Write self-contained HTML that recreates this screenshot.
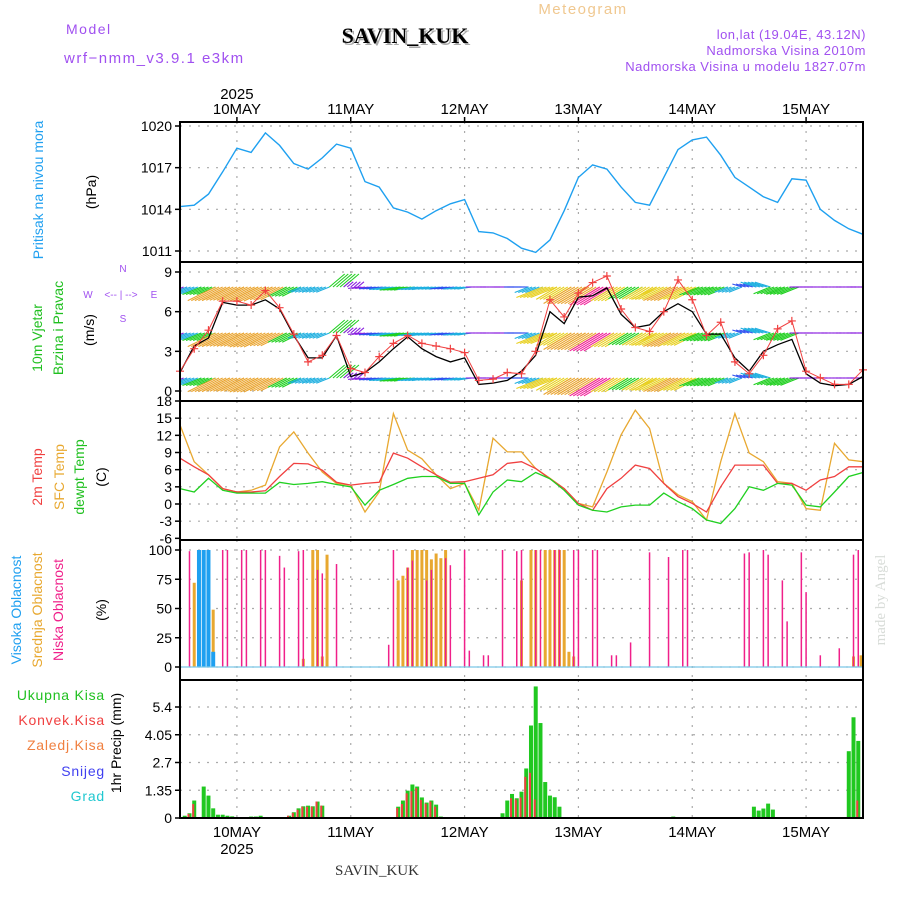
<!DOCTYPE html>
<html><head><meta charset="utf-8">
<style>
html,body{margin:0;padding:0;background:#fff;}
svg{display:block;font-family:"Liberation Sans",sans-serif;}
</style></head>
<body>
<svg id="chart" width="900" height="900" viewBox="0 0 900 900" xmlns="http://www.w3.org/2000/svg">
<defs><clipPath id="windclip"><rect x="180" y="262" width="683" height="139"/></clipPath></defs>
<rect x="0" y="0" width="900" height="900" fill="#fff"/>
<g>
<text x="66" y="34" font-size="14" fill="#a050f0" letter-spacing="1.5">Model</text>
<text x="64" y="63" font-size="15" fill="#a050f0" letter-spacing="1.5">wrf−nmm_v3.9.1  e3km</text>
<text x="407" y="45" font-size="22" font-weight="bold" font-family="Liberation Serif, serif" fill="#aaa" text-anchor="middle">SAVIN_KUK</text>
<text x="405" y="43" font-size="22" font-weight="bold" font-family="Liberation Serif, serif" fill="#000" text-anchor="middle">SAVIN_KUK</text>
<text x="583" y="14" font-size="15" fill="#f0c890" text-anchor="middle" letter-spacing="1.5">Meteogram</text>
<text x="866" y="39" font-size="13" fill="#a050f0" text-anchor="end" letter-spacing="0.5">lon,lat (19.04E, 43.12N)</text>
<text x="866" y="55" font-size="13" fill="#a050f0" text-anchor="end" letter-spacing="0.5">Nadmorska Visina 2010m</text>
<text x="866" y="71" font-size="13" fill="#a050f0" text-anchor="end" letter-spacing="0.5">Nadmorska Visina u modelu 1827.07m</text>
</g>
<g font-size="14">
<text transform="translate(43,190) rotate(-90)" text-anchor="middle" fill="#20a0f0">Pritisak na nivou mora</text>
<text transform="translate(96,192) rotate(-90)" text-anchor="middle" fill="#000">(hPa)</text>
<text transform="translate(42,338) rotate(-90)" text-anchor="middle" fill="#20c020">10m Vjetar</text>
<text transform="translate(63,328) rotate(-90)" text-anchor="middle" fill="#20c020">Brzina i Pravac</text>
<text transform="translate(94,330) rotate(-90)" text-anchor="middle" fill="#000">(m/s)</text>
<g fill="#a050f0" font-size="10" text-anchor="middle">
<text x="88" y="298">W</text><text x="154" y="298">E</text><text x="123" y="272">N</text><text x="123" y="322">S</text>
<text x="121" y="298">&lt;-- | --&gt;</text>
</g>
<text transform="translate(42,477) rotate(-90)" text-anchor="middle" fill="#f04040">2m Temp</text>
<text transform="translate(64,477) rotate(-90)" text-anchor="middle" fill="#e8a830">SFC Temp</text>
<text transform="translate(84,477) rotate(-90)" text-anchor="middle" fill="#20c020">dewpt Temp</text>
<text transform="translate(106,477) rotate(-90)" text-anchor="middle" fill="#000">(C)</text>
<text transform="translate(21,610) rotate(-90)" text-anchor="middle" fill="#20a0f0">Visoka Oblacnost</text>
<text transform="translate(42,610) rotate(-90)" text-anchor="middle" fill="#e8a830">Srednja Oblacnost</text>
<text transform="translate(63,610) rotate(-90)" text-anchor="middle" fill="#f0208a">Niska Oblacnost</text>
<text transform="translate(106,610) rotate(-90)" text-anchor="middle" fill="#000">(%)</text>
<g text-anchor="end" font-size="14" letter-spacing="0.8">
<text x="105" y="700" fill="#20c020">Ukupna  Kisa</text>
<text x="105" y="725" fill="#f04040">Konvek.Kisa</text>
<text x="105" y="750" fill="#f08040">Zaledj.Kisa</text>
<text x="105" y="776" fill="#4040f0">Snijeg</text>
<text x="105" y="801" fill="#20c8d0">Grad</text>
</g>
<text transform="translate(121,743) rotate(-90)" text-anchor="middle" fill="#000">1hr Precip (mm)</text>
<text transform="translate(885,600) rotate(-90)" text-anchor="middle" fill="#d8dcd8" font-family="Liberation Serif, serif" font-size="15">made by Angel</text>
<text x="377" y="875" font-size="15" font-family="Liberation Serif, serif" fill="#333" text-anchor="middle">SAVIN_KUK</text>
</g>
<g id="plots"></g>
</svg>
<script>
// ---- data (3-hourly from 9 May 12UTC) ----
const dayLabels = ["10MAY","11MAY","12MAY","13MAY","14MAY","15MAY"];
const pressTicks = [1020,1017,1014,1011];
const windTicks = [9,6,3,0];
const tempTicks = [18,15,12,9,6,3,0,-3,-6];
const cloudTicks = [100,75,50,25,0];
const precipTicks = ["5.4","4.05","2.7","1.35","0"];
const pressure = [1014.2,1014.3,1015.1,1016.7,1018.4,1018.1,1019.5,1018.6,1017.3,1016.9,1017.7,1018.7,1018.4,1016.0,1015.6,1014.1,1013.8,1013.3,1013.9,1014.4,1014.7,1012.4,1012.3,1011.9,1011.2,1010.9,1011.8,1013.9,1016.3,1017.2,1016.9,1015.6,1014.5,1014.3,1016.3,1018.3,1019.0,1019.2,1017.9,1016.3,1015.6,1014.9,1014.5,1016.2,1016.1,1014.0,1013.2,1012.6,1012.2];
const windSpeed = [1.4,3.4,4.0,6.7,6.5,6.5,6.9,6.2,4.2,2.5,2.5,4.2,1.1,1.4,2.2,3.2,4.1,3.2,2.6,2.2,2.5,0.5,0.6,0.8,1.5,2.7,6.0,5.1,7.1,7.2,7.8,5.8,4.8,5.0,6.0,6.6,6.0,4.3,4.3,2.5,1.5,3.0,3.5,3.9,1.3,0.6,0.4,0.5,1.1];
const windGust = [1.5,3.2,4.6,6.8,6.8,6.5,7.6,6.3,4.3,2.2,2.7,4.2,1.7,1.4,2.6,3.6,4.2,3.6,3.4,3.2,2.9,0.8,0.9,1.4,1.3,3.0,6.9,5.6,7.4,8.2,8.7,6.2,4.8,4.5,6.0,8.4,6.9,4.2,5.2,2.2,1.3,2.7,4.7,5.3,1.5,1.0,0.5,0.5,1.6];
const windFrom = [65,65,65,60,60,60,60,60,60,65,65,225,225,80,80,80,80,80,80,80,80,90,90,90,90,65,65,55,55,55,55,55,55,55,60,60,60,65,65,65,110,110,65,65,90,90,90,90,90];
const tempSfc = [13.8,7.4,5.1,2.7,2.1,2.4,3.3,10.0,12.6,8.9,5.6,3.6,3.3,-1.4,2.1,15.8,9.4,7.9,5.1,2.7,3.6,-1.1,11.5,9.1,9.1,6.2,4.5,2.7,0.1,-0.5,5.6,12.1,16.4,13.2,3.6,1.6,0.4,-2.8,7.4,15.8,8.9,7.4,3.9,3.6,-0.8,-1.1,10.6,7.7,7.4];
const temp2m = [8.0,6.5,5.1,2.7,2.1,2.1,2.3,4.8,7.1,7.0,5.9,3.8,3.3,3.6,3.8,8.9,8.0,6.5,5.1,3.8,3.9,4.5,5.1,7.1,7.4,6.2,4.4,2.7,0.1,-1.1,2.7,4.5,6.8,6.2,3.6,1.3,0.1,-1.4,3.0,6.8,6.8,6.8,3.6,3.6,2.4,4.2,4.8,6.5,6.5];
const tempDew = [2.7,2.1,4.5,2.4,1.9,1.9,1.9,3.8,3.4,3.6,3.9,3.4,3.0,-0.2,2.4,3.4,4.5,4.8,4.8,3.6,3.6,-1.9,2.1,4.2,3.9,5.5,4.4,2.4,-0.2,-1.1,-1.4,-0.5,-0.2,-0.2,1.9,0.4,-0.8,-2.8,-3.4,-0.8,3.0,2.4,3.6,3.3,-0.2,-0.5,2.1,4.8,5.5];
const lowHours = [2,9,10,13,14,17,18,21,22,25,26,29,30,33,44,45,48,49,52,53,56,57,60,61,64,65,68,71,72,75,76,79,80,83,84,87,88,91,92,95,99,103,106,107,119,120,123,124,127,128,131,132,135,139,142,143];
const lowCloud = [99,100,100,100,100,100,100,95,85,99,100,83,80,88,19,100,85,91,74,83,93,87,100,14,10,10,100,99,100,100,100,100,100,100,100,100,100,10,10,21,98,94,100,100,97,98,100,96,74,39,98,64,10,16,96,100];
const midHours = [3,4,7,26,28,29,30,31,46,47,48,49,50,51,52,53,54,55,56,72,74,75,77,78,79,80,81,82,83,142,143.6];
const midCloud = [72,9,49,7,100,100,9,96,74,78,85,100,100,100,100,92,97,93,100,74,100,100,100,100,100,100,100,13,9,9,10];
const highHours = [4,5,6,7];
const highCloud = [100,100,100,13];
const precipHours = [1,2,3,5,6,7,8,9,10,11,15,16,17,23,24,25,26,27,28,29,30,46,47,48,49,50,51,52,53,54,55,68,69,70,71,72,73,74,75,76,77,78,79,80,104,121,122,123,124,125,141,142,143];
const precipTotal = [0.11,0.23,0.85,1.53,1.09,0.47,0.16,0.16,0.11,0.08,0.07,0.07,0.11,0.11,0.28,0.47,0.57,0.6,0.57,0.8,0.6,0.55,0.85,1.33,1.63,1.53,1.0,0.75,0.85,0.65,0.07,0.23,0.85,1.17,0.96,1.28,2.41,4.5,6.4,4.62,1.75,1.09,1.01,0.55,0.07,0.55,0.36,0.46,0.7,0.41,3.25,4.9,3.75];
const precipConv = [0,0.2,0.68,0,0,0,0,0,0,0,0,0,0,0.11,0.25,0.4,0.55,0.55,0.55,0.8,0.6,0.49,0.68,1.2,1.3,1.45,0.88,0.7,0.8,0.55,0,0,0,0.96,0.9,1.0,2.0,2.2,0.9,0,0,0,0,0,0,0,0,0,0,0,0,0,0.85];

// ---- layout ----
const X0=180, X1=863, HOURS=144;
const P = {
  press:{top:122,bot:262,y:v=>126+(1020-v)*(125/9)},
  wind:{top:262,bot:401,y:v=>391-v*(119/9)},
  temp:{top:401,bot:540,y:v=>504-v*(103/18)},
  cloud:{top:540,bot:680,y:v=>667-v*1.17},
  precip:{top:680,bot:818,y:v=>818-v*(111/5.4)}
};
const xT = h => X0 + h*(X1-X0)/HOURS;
const xK = k => xT(k*3);
const NS="http://www.w3.org/2000/svg";
const root=document.getElementById('plots');
function mk(tag,attrs,parent){const e=document.createElementNS(NS,tag);for(const a in attrs)e.setAttribute(a,attrs[a]);(parent||root).appendChild(e);return e;}

const panels=[['press','pressure-panel',pressTicks,v=>v],['wind','wind-panel',windTicks,v=>v],['temp','temp-panel',tempTicks,v=>v],['cloud','cloud-panel',cloudTicks,v=>v],['precip','precip-panel',precipTicks,v=>parseFloat(v)]];
for(const [key,name,ticks,fv] of panels){
  const p=P[key];
  const g=mk('g',{});
  
  
  p.g=g;
  for(const t of ticks){
    const y=p.y(fv(t));
    if(y>p.top+2&&y<p.bot-2){
      const l=mk('line',{x1:X0,x2:X1,y1:y,y2:y,stroke:'#aaa','stroke-width':1.2,'stroke-dasharray':'2 7'},g);
      
      
    }
    const tk=mk('line',{x1:X0-5,x2:X0,y1:y,y2:y,stroke:'#000','stroke-width':1.5},g);
    
    
    const tx=mk('text',{x:X0-8,y:y+5,'font-size':14,'text-anchor':'end',fill:'#000'},g);
    tx.textContent=t;
    
    
  }
  dayLabels.forEach((d,i)=>{
    const x=xT(12+24*i);
    const l=mk('line',{x1:x,x2:x,y1:p.top,y2:p.bot,stroke:'#aaa','stroke-width':1.2,'stroke-dasharray':'2 7'},g);
    
    
  });
}
function line(key,arr,color,name,w){
  const p=P[key];
  const d=arr.map((v,k)=>(k?'L':'M')+xK(k).toFixed(1)+','+p.y(v).toFixed(1)).join('');
  const e=mk('path',{d:d,fill:'none',stroke:color,'stroke-width':w||1.3},p.g);
  
  
}
line('press',pressure,'#1ea0f0','pressure-line',1.4);

// wind arrows
function windColor(s){return s<1.5?'#8a20e0':s<2.5?'#3050f0':s<3.5?'#20b0e0':s<5?'#20d020':s<6.2?'#e8d020':s<7.3?'#eaa530':'#f0209a';}
const rows=[287,333,378];
const wg=mk('g',{'clip-path':'url(#windclip)'},P.wind.g);


windSpeed.forEach((s,k)=>{
  const b=(windFrom[k]+180)*Math.PI/180;
  const L=4+4.2*s;
  const dx=Math.sin(b)*L, dy=-Math.cos(b)*L*0.85;
  for(const off of [-1.2,-0.6,0,0.6,1.2]){
    const x=xT(k*3+off*1.25);
    for(const ry of rows){
      const a=mk('line',{x1:x,y1:ry,x2:x+dx,y2:ry+dy,stroke:windColor(s),'stroke-width':1.1},wg);
      
      
    }
  }
});
line('wind',windSpeed,'#000','wind-speed-line',1.3);
line('wind',windGust,'#f04040','wind-gust-line',1);
windGust.forEach((v,k)=>{
  const x=xK(k), y=P.wind.y(v);
  const c=mk('path',{d:`M${x-4},${y}H${x+4}M${x},${y-4}V${y+4}`,stroke:'#f04040','stroke-width':1.2},P.wind.g);
  
  
});

line('temp',tempSfc,'#e8a830','sfc-temp-line');
line('temp',temp2m,'#f04040','2m-temp-line');
line('temp',tempDew,'#20d020','dewpoint-line');

function bars(key,hours,vals,color,w,name,dx){
  const p=P[key];
  hours.forEach((h,i)=>{
    const y=p.y(vals[i]), y0=p.y(0);
    const r=mk('rect',{x:xT(h)-w/2+(dx||0),y:y,width:w,height:Math.max(0,y0-y),fill:color},p.g);
    
    
  });
}
bars('cloud',midHours,midCloud,'#e8a830',3,'mid-cloud-bar');
bars('cloud',highHours,highCloud,'#1ea0f0',4,'high-cloud-bar');
bars('cloud',lowHours,lowCloud,'#f0208a',1.5,'low-cloud-bar');
const zl=mk('line',{x1:X0,x2:X1,y1:P.cloud.y(0),y2:P.cloud.y(0),stroke:'#7ac8e8','stroke-width':1.2},P.cloud.g);



bars('precip',precipHours,precipTotal,'#20c820',4,'precip-total-bar');
bars('precip',precipHours,precipConv,'#f04040',2,'precip-convective-bar',-1);

for(const key in P){
  const p=P[key];
  const r=mk('rect',{x:X0,y:p.top,width:X1-X0,height:p.bot-p.top,fill:'none',stroke:'#000','stroke-width':2});
  
  
}
dayLabels.forEach((d,i)=>{
  const x=xT(12+24*i);
  const t=mk('text',{x:x,y:114,'font-size':15,'text-anchor':'middle',fill:'#000'});
  t.textContent=d;
  
  
  const b=mk('text',{x:x,y:837,'font-size':15,'text-anchor':'middle',fill:'#000'});
  b.textContent=d;
  
  
  const tk=mk('line',{x1:x,x2:x,y1:117,y2:122,stroke:'#000','stroke-width':1.5});
  
  
});
const y1=mk('text',{x:xT(12),y:99,'font-size':15,'text-anchor':'middle',fill:'#000'});
y1.textContent='2025';


const y2=mk('text',{x:xT(12),y:854,'font-size':15,'text-anchor':'middle',fill:'#000'});
y2.textContent='2025';


</script>
</body></html>
